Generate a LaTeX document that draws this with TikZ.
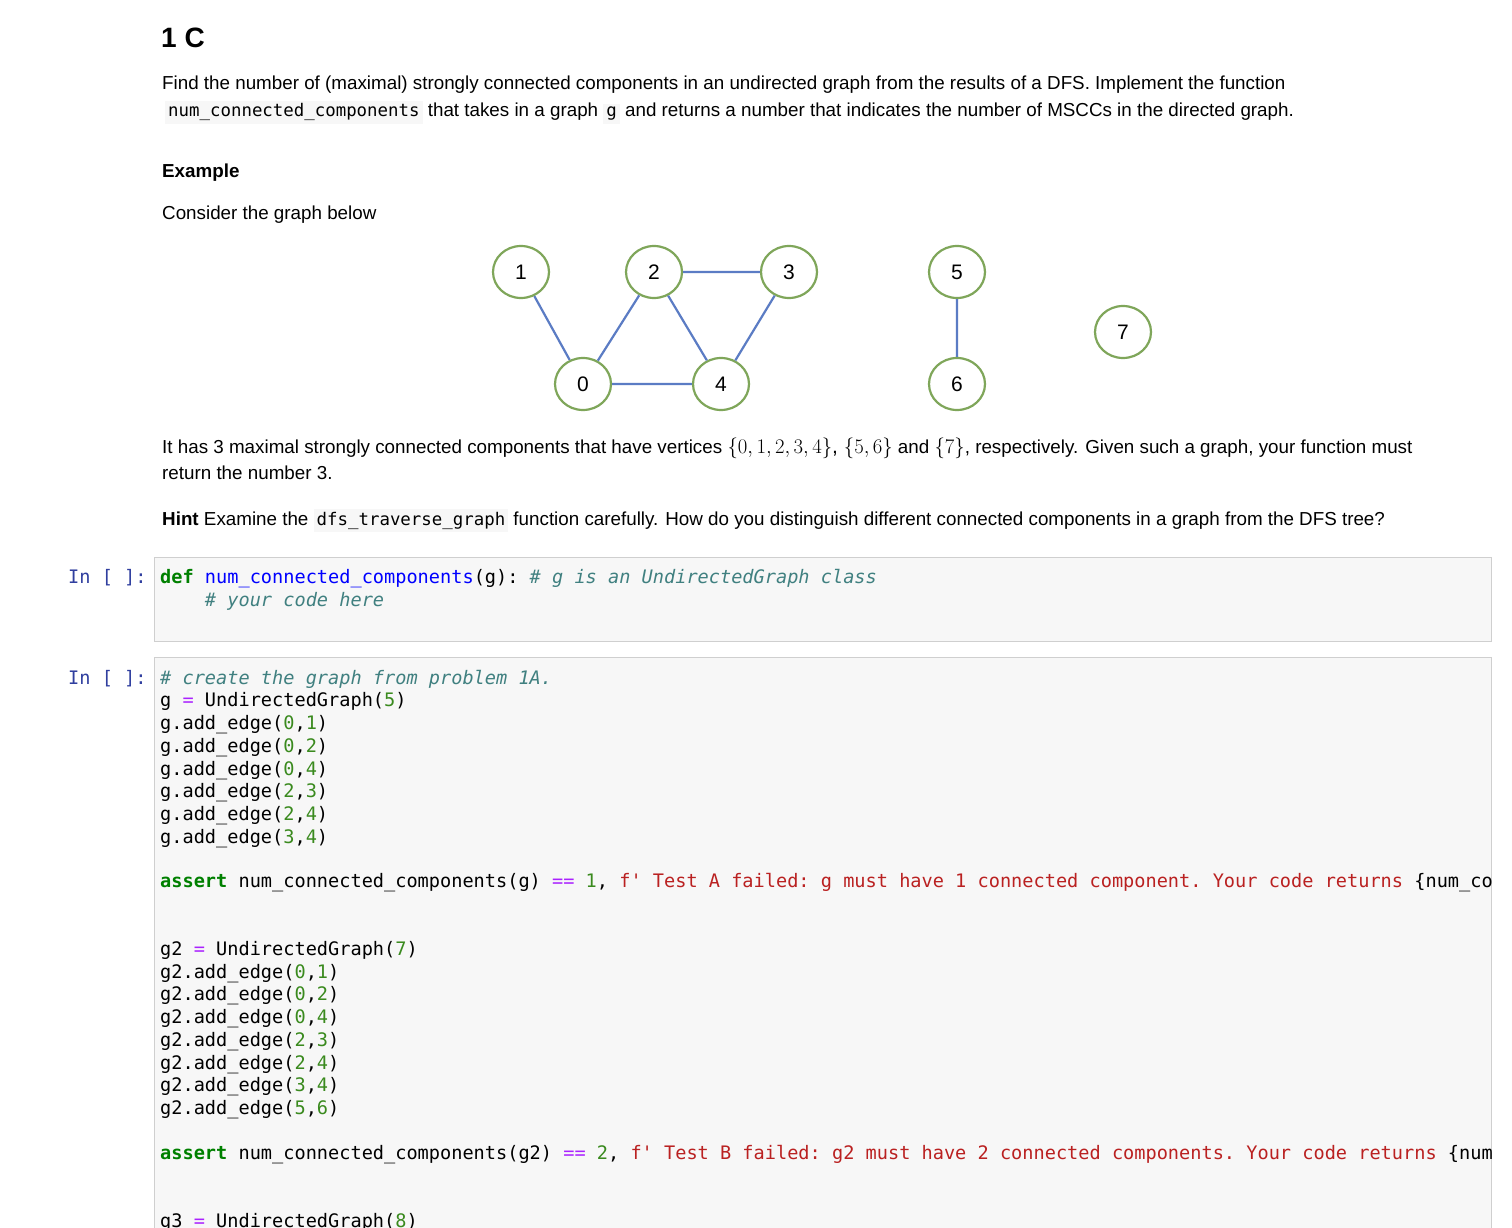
\documentclass[tikz,border=0pt]{standalone}
\usepackage{fontspec}
\setmainfont{Liberation Sans}
\setmonofont{DejaVu Sans Mono}
\usetikzlibrary{shapes.geometric}
\definecolor{kw}{HTML}{008000}
\definecolor{fn}{HTML}{0000FF}
\definecolor{cm}{HTML}{408080}
\definecolor{nm}{HTML}{3A8A1E}
\definecolor{st}{HTML}{BA2121}
\definecolor{op}{HTML}{AA22FF}
\definecolor{prm}{HTML}{303F9F}
\definecolor{cellbg}{HTML}{F7F7F7}
\definecolor{cellbd}{HTML}{CFCFCF}
\definecolor{vtx}{HTML}{7FA65A}
\definecolor{edg}{HTML}{5B7CC4}
\newcommand{\myK}[1]{\textcolor{kw}{\bfseries #1}}
\newcommand{\myN}[1]{\textcolor{nm}{#1}}
\newcommand{\myC}[1]{\textcolor{cm}{\itshape #1}}
\newcommand{\myS}[1]{\textcolor{st}{#1}}
\newcommand{\myOP}[1]{\textcolor{op}{#1}}
\newcommand{\ic}[1]{\begingroup\setlength{\fboxsep}{3pt}\colorbox{cellbg}{\fontsize{17.4}{17}\ttfamily #1}\endgroup}
\tikzset{
 txt/.style={anchor=base west,inner sep=0,font=\fontsize{18.8}{22}\selectfont},
 code/.style={anchor=base west,inner sep=0,font=\fontsize{18.6}{20}\ttfamily},
 prompt/.style={anchor=base west,inner sep=0,font=\fontsize{18.6}{20}\ttfamily,text=prm},
 vert/.style={ellipse,draw=vtx,line width=2.2pt,fill=white,minimum width=56pt,minimum height=52pt,inner sep=0,font=\fontsize{21}{21}\selectfont},
 ed/.style={draw=edg,line width=2.2pt},
 cell/.style={draw=cellbd,fill=cellbg,line width=0.8pt}
}
\begin{document}
\begin{tikzpicture}[x=1pt,y=-1pt]
\useasboundingbox[fill=white] (0,0) rectangle (1512,1228);
\node[txt,font=\fontsize{28}{28}\selectfont\bfseries] (title) at (161,48) {1 C};
\node[txt] (p1) at (162,90) {Find the number of (maximal) strongly connected components in an undirected graph from the results of a DFS. Implement the function};
\node[txt] (p2) at (165,117) {\ic{num\_connected\_components} that takes in a graph \ic{g} and returns a number that indicates the number of MSCCs in the directed graph.};
\node[txt,font=\fontsize{18.8}{22}\selectfont\bfseries] (ex) at (162,177) {Example};
\node[txt] (cons) at (162,219) {Consider the graph below};
% graph
\node[vert] (v1) at (521,272) {1};
\node[vert] (v2) at (654,272) {2};
\node[vert] (v3) at (789,272) {3};
\node[vert] (v0) at (583,384) {0};
\node[vert] (v4) at (721,384) {4};
\node[vert] (v5) at (957,272) {5};
\node[vert] (v6) at (957,384) {6};
\node[vert] (v7) at (1123,332) {7};
\draw[ed] (v1) -- (v0) (v2) -- (v0) (v2) -- (v3) (v2) -- (v4) (v3) -- (v4) (v0) -- (v4) (v5) -- (v6);
\node[txt] (p3) at (162,453) {It has 3 maximal strongly connected components that have vertices \fontsize{21}{21}\selectfont$\{0,1,2,3,4\}$, $\{5,6\}$\fontsize{18.8}{22}\selectfont{} and \fontsize{21}{21}\selectfont$\{7\}$\fontsize{18.8}{22}\selectfont, respectively. Given such a graph, your function must};
\node[txt] (p4) at (162,479) {return the number 3.};
\node[txt] (hint) at (162,525) {\textbf{Hint} Examine the \ic{dfs\_traverse\_graph} function carefully. How do you distinguish different connected components in a graph from the DFS tree?};
% cells
\draw[cell] (154.5,557.5) rectangle (1491.5,641);
\node[prompt] (in1) at (68,583) {In [ ]:};
\node[code] (c1) at (160,583) {\myK{def} \textcolor{fn}{num\_connected\_components}(g): \myC{\# g is an UndirectedGraph class}};
\node[code] (c2) at (160,606) {\myC{\ \ \ \ \# your code here}};
\draw[cell] (154.5,657.5) rectangle (1491.5,1240);
\node[prompt] (in2) at (68,684) {In [ ]:};
\begin{scope}
\clip (155,658) rectangle (1491,1228);
\node[code] at (160,684) {\myC{\# create the graph from problem 1A.}};
\node[code] at (160,706) {g \myOP{=} UndirectedGraph(\myN{5})};
\node[code] at (160,729) {g.add\_edge(\myN{0},\myN{1})};
\node[code] at (160,752) {g.add\_edge(\myN{0},\myN{2})};
\node[code] at (160,775) {g.add\_edge(\myN{0},\myN{4})};
\node[code] at (160,797) {g.add\_edge(\myN{2},\myN{3})};
\node[code] at (160,820) {g.add\_edge(\myN{2},\myN{4})};
\node[code] at (160,843) {g.add\_edge(\myN{3},\myN{4})};
\node[code] at (160,887) {\myK{assert} num\_connected\_components(g) \myOP{==} \myN{1}, \myS{f' Test A failed: g must have 1 connected component. Your code returns }\{num\_connected\_components(g)\}\myS{'}};
\node[code] at (160,955) {g2 \myOP{=} UndirectedGraph(\myN{7})};
\node[code] at (160,978) {g2.add\_edge(\myN{0},\myN{1})};
\node[code] at (160,1000) {g2.add\_edge(\myN{0},\myN{2})};
\node[code] at (160,1023) {g2.add\_edge(\myN{0},\myN{4})};
\node[code] at (160,1046) {g2.add\_edge(\myN{2},\myN{3})};
\node[code] at (160,1069) {g2.add\_edge(\myN{2},\myN{4})};
\node[code] at (160,1091) {g2.add\_edge(\myN{3},\myN{4})};
\node[code] at (160,1114) {g2.add\_edge(\myN{5},\myN{6})};
\node[code] at (160,1159) {\myK{assert} num\_connected\_components(g2) \myOP{==} \myN{2}, \myS{f' Test B failed: g2 must have 2 connected components. Your code returns }\{num\_connected\_components(g2)\}\myS{'}};
\node[code] at (160,1227) {g3 \myOP{=} UndirectedGraph(\myN{8})};
\end{scope}
\end{tikzpicture}
\end{document}
